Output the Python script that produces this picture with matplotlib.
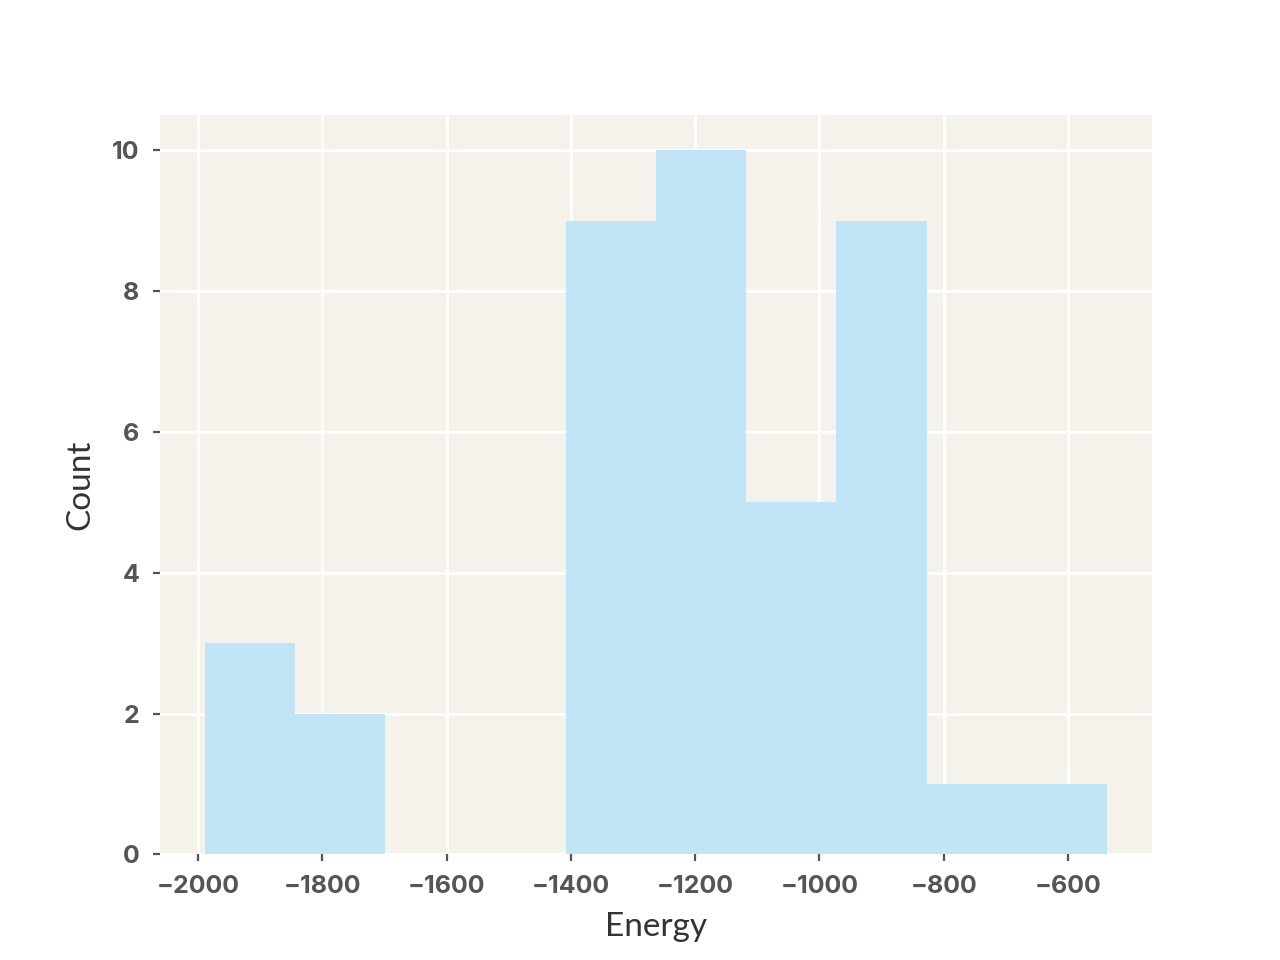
import matplotlib.pyplot as plt
import numpy as np

# histogram bins
bin_edges = [-1988.7, -1843.6, -1698.4, -1553.3, -1408.1, -1263.0,
             -1117.8, -972.7, -827.6, -682.4, -537.3]
counts = [3, 2, 0, 0, 9, 10, 5, 9, 1, 1]

plt.rcParams['font.family'] = ['Lato', 'DejaVu Sans']

fig, ax = plt.subplots(figsize=(6.4, 4.8), dpi=200)

ax.set_facecolor("#f4f2eb")
ax.set_axisbelow(True)
ax.grid(color="white", linewidth=1.0)

ax.hist(bin_edges[:-1], bins=bin_edges, weights=counts, color="#c2e4f7")

for s in ax.spines.values():
    s.set_visible(False)

ax.set_xticks([-2000, -1800, -1600, -1400, -1200, -1000, -800, -600])
ax.set_yticks([0, 2, 4, 6, 8, 10])
ax.tick_params(length=2.5, width=0.8, color="#555555", labelcolor="#555555",
               labelsize=9, pad=5)
for lbl in ax.get_xticklabels() + ax.get_yticklabels():
    lbl.set_fontweight("bold")
    lbl.set_family(["Inter", "DejaVu Sans"])

ax.set_xlabel("Energy", fontsize=12, color="#333333", labelpad=5)
ax.set_ylabel("Count", fontsize=12, color="#333333", labelpad=6)

fig.savefig("out.png")
